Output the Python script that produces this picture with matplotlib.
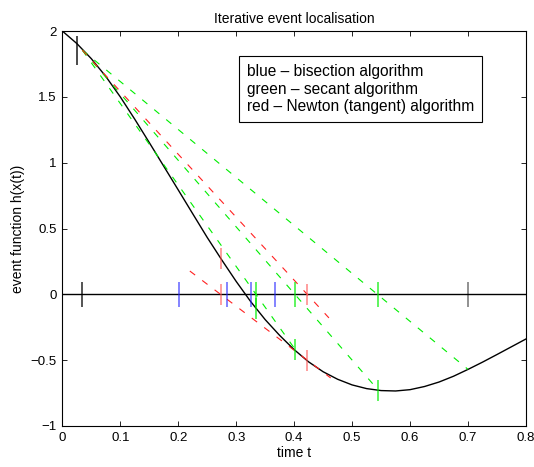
"""Iterative event localisation: bisection, secant and Newton steps on h(x(t))."""

import matplotlib

matplotlib.use("Agg")
import matplotlib.pyplot as plt

plt.rcParams["font.family"] = ["Liberation Sans", "DejaVu Sans"]

# event function
curve_t = [0.000, 0.025, 0.050, 0.075, 0.100, 0.125, 0.150, 0.175, 0.200, 0.225, 0.250,
           0.275, 0.300, 0.325, 0.350, 0.375, 0.400, 0.425, 0.450, 0.475, 0.500, 0.525,
           0.550, 0.575, 0.600, 0.625, 0.650, 0.675, 0.700, 0.725, 0.750, 0.775, 0.800]
curve_h = [2.000, 1.905, 1.790, 1.655, 1.500, 1.330, 1.153, 0.973, 0.793, 0.612, 0.432,
           0.262, 0.098, -0.055, -0.192, -0.312, -0.420, -0.513, -0.588, -0.645, -0.688, -0.716,
           -0.731, -0.734, -0.724, -0.700, -0.666, -0.622, -0.570, -0.515, -0.457, -0.398, -0.339]

# initial bracket
bracket_t = [0.0345, 0.700]
start_t, start_h = 0.0345, 1.855
start_tick_t = 0.026

# bisection midpoints
bisection_t = [0.367, 0.2008, 0.2848, 0.3256]

# secant (regula falsi) iterates and chord end points
secant_t = [0.545, 0.402, 0.334]
secant_h = [-0.727, -0.420, -0.105]
chord_end_t = [0.700, 0.545, 0.402]
chord_end_h = [-0.570, -0.727, -0.420]

# Newton iterates and tangent segments
newton_t = [0.4225, 0.273]
newton_h = [-0.500, 0.270]
tangent_t0 = [0.0345, 0.220]
tangent_h0 = [1.855, 0.177]
tangent_t1 = [0.460, 0.463]
tangent_h1 = [-0.179, -0.635]

legend_lines = ["blue \u2013 bisection algorithm",
                "green \u2013 secant algorithm",
                "red \u2013 Newton (tangent) algorithm"]

TICK = 0.095
GREEN = "#00ee00"
RED = "#ff2020"
DASH = (0, (6, 8))


def vtick(ax, t, h, color, half=TICK, lw=1.1, alpha=0.75):
    ax.plot([t, t], [h - half, h + half], color=color, lw=lw, alpha=alpha, solid_capstyle="butt")


fig = plt.figure(figsize=(5.34, 4.67), dpi=100)
ax = fig.add_axes([0.1167, 0.0878, 0.8683, 0.8458])

ax.axhline(0.0, color="black", lw=1.0)
ax.plot(curve_t, curve_h, color="black", lw=1.0)

for t1, h1 in zip(chord_end_t, chord_end_h):
    ax.plot([start_t, t1], [start_h, h1], color=GREEN, lw=0.8, linestyle=DASH)
for t0, h0, t1, h1 in zip(tangent_t0, tangent_h0, tangent_t1, tangent_h1):
    ax.plot([t0, t1], [h0, h1], color=RED, lw=0.8, linestyle=DASH)

vtick(ax, start_tick_t, start_h, "black", half=0.11, alpha=0.9)
vtick(ax, bracket_t[0], 0.0, "black", alpha=0.85)
vtick(ax, bracket_t[1], 0.0, "black", alpha=0.55)
for t in bisection_t:
    vtick(ax, t, 0.0, "#2020ff", alpha=0.7)
for t, h in zip(secant_t, secant_h):
    vtick(ax, t, 0.0, GREEN, alpha=0.8)
    vtick(ax, t, h, GREEN, half=0.08, alpha=0.8)
for t, h in zip(newton_t, newton_h):
    vtick(ax, t, 0.0, "#ff5050", half=0.08, alpha=0.7)
    vtick(ax, t, h, "#ff5050", half=0.08, alpha=0.7)

ax.text(0.319, 1.748, "\n".join(legend_lines), fontsize=11.2, va="top", ha="left",
        linespacing=1.22,
        bbox=dict(boxstyle="square,pad=0.5", facecolor="white", edgecolor="black", lw=0.8))

ax.set_xlim(0, 0.8)
ax.set_ylim(-1, 2)
ax.set_xticks([0, 0.1, 0.2, 0.3, 0.4, 0.5, 0.6, 0.7, 0.8])
ax.set_xticklabels(["0", "0.1", "0.2", "0.3", "0.4", "0.5", "0.6", "0.7", "0.8"])
ax.set_yticks([-1, -0.5, 0, 0.5, 1, 1.5, 2])
ax.set_yticklabels(["\u22121", "\u22120.5", "0", "0.5", "1", "1.5", "2"])
ax.tick_params(direction="in", top=True, right=True, length=3.5, width=0.6, labelsize=9.5, pad=4)
for s in ax.spines.values():
    s.set_linewidth(0.8)
ax.set_xlabel("time t", fontsize=10, labelpad=2)
ax.set_ylabel("event function h(x(t))", fontsize=10, labelpad=4)
ax.set_title("Iterative event localisation", fontsize=10, pad=6)

fig.savefig("out.png", dpi=100)
plt.close(fig)
